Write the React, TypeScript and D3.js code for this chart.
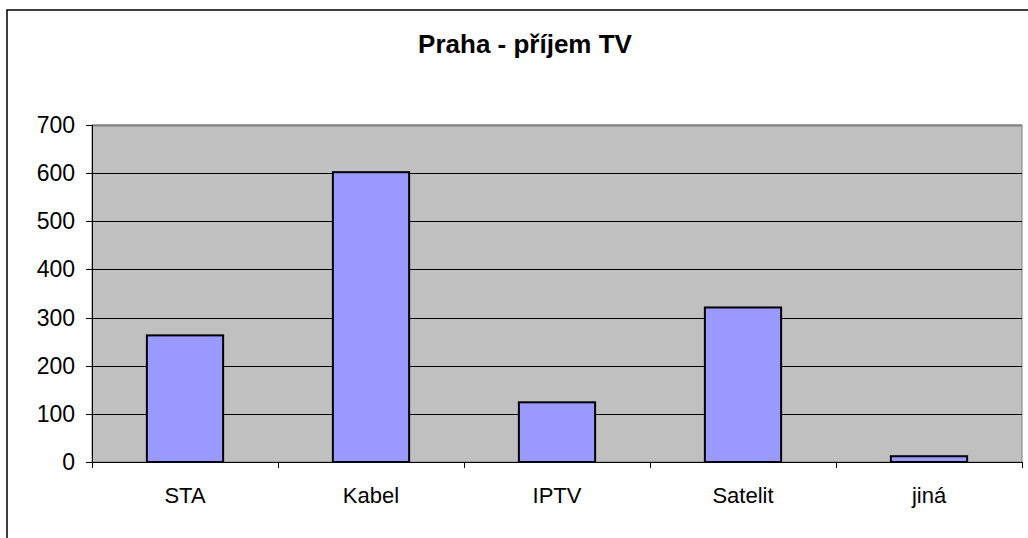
import React from "react";
import * as d3 from "d3";

const categories = ["STA", "Kabel", "IPTV", "Satelit", "jiná"];
const values = [263, 602, 124, 321, 12];
const yTicks = [0, 100, 200, 300, 400, 500, 600, 700];
const title = "Praha - příjem TV";

export default function App() {
  const W = 1028, H = 538;
  const left = 92, right = 1022, top = 125, bottom = 462;
  const y = d3.scaleLinear().domain([0, 700]).range([bottom, top]);
  const x = d3.scaleBand<string>().domain(categories).range([left, right]).paddingInner(0.59).paddingOuter(0.295);
  const step = (right - left) / categories.length;
  const font = "'Liberation Sans', Arial, sans-serif";
  return (
    <svg width={W} height={H} style={{ position: "absolute", left: 0, top: 0, background: "#fff" }}>
      <rect x={7} y={10} width={1100} height={600} fill="#fff" stroke="#000" strokeWidth={1.5} />
      <text x={525} y={53} textAnchor="middle" fontFamily={font} fontWeight="bold" fontSize={26}>{title}</text>
      <rect x={left} y={top} width={right - left} height={bottom - top} fill="#C0C0C0" stroke="#808080" strokeWidth={1} />
      {yTicks.filter(t => t > 0 && t < 700).map(t => (
        <line key={t} x1={left} x2={right} y1={Math.round(y(t)) + 0.5} y2={Math.round(y(t)) + 0.5} stroke="#000" strokeWidth={1} />
      ))}
      <line x1={left} x2={right} y1={top + 0.5} y2={top + 0.5} stroke="#808080" strokeWidth={2} />
      {categories.map((c, i) => (
        <rect key={c} x={x(c)!} y={y(values[i])} width={x.bandwidth()} height={bottom - y(values[i])} fill="#9999FF" stroke="#000" strokeWidth={2} />
      ))}
      <line x1={left + 0.5} x2={left + 0.5} y1={top} y2={bottom} stroke="#000" strokeWidth={1} />
      <line x1={left} x2={right + 1} y1={bottom + 0.5} y2={bottom + 0.5} stroke="#000" strokeWidth={1} />
      {yTicks.map(t => (
        <g key={t}>
          <line x1={left - 6} x2={left} y1={Math.round(y(t)) + 0.5} y2={Math.round(y(t)) + 0.5} stroke="#000" />
          <text x={75} y={y(t)} dy="0.35em" textAnchor="end" fontFamily={font} fontSize={23}>{t}</text>
        </g>
      ))}
      {d3.range(categories.length + 1).map(i => (
        <line key={i} x1={Math.round(left + i * step) + 0.5} x2={Math.round(left + i * step) + 0.5} y1={bottom} y2={bottom + 6} stroke="#000" />
      ))}
      {categories.map(c => (
        <text key={c} x={x(c)! + x.bandwidth() / 2} y={503} textAnchor="middle" fontFamily={font} fontSize={22}>{c}</text>
      ))}
    </svg>
  );
}
